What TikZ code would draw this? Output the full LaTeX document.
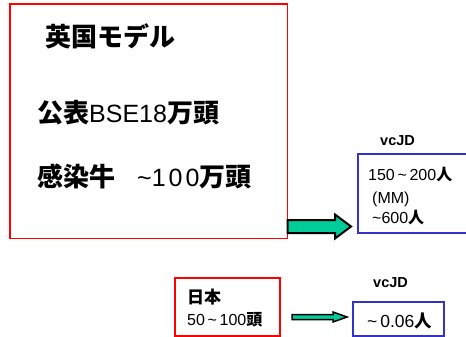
\documentclass[tikz,border=0pt]{standalone}
\usepackage{fontspec}
\setmainfont{Liberation Sans}
\newfontfamily\jp{Noto Sans CJK JP}
\definecolor{boxblue}{RGB}{51,51,204}
\definecolor{arrowgreen}{RGB}{0,204,153}
\begin{document}
\begin{tikzpicture}[x=1pt,y=-1pt]
\useasboundingbox (0,0) rectangle (466,337);
\clip (0,0) rectangle (466,337);
\tikzset{
  redbox/.style={draw=red, line width=1.5pt, inner sep=0pt, outer sep=0pt, rectangle, anchor=north west},
  bluebox/.style={draw=boxblue, line width=1.5pt, inner sep=0pt, outer sep=0pt, rectangle, anchor=north west},
  blockarrow/.style={draw=black, line width=2pt, fill=arrowgreen, line join=miter},
  txt/.style={anchor=base west, inner sep=0pt},
  big/.style={font=\fontsize{25}{30}\selectfont},
  mid/.style={font=\fontsize{16}{19}\selectfont},
  small/.style={font=\fontsize{14.5}{17}\selectfont\bfseries},
}
\newcommand{\J}[1]{{\jp\bfseries #1}}
\newcommand{\JB}[1]{{\jp\bfseries\fontsize{26}{30}\selectfont #1}}
\newcommand{\Sp}[1]{{\addfontfeature{LetterSpace=#1}}}
% boxes
\node[redbox, minimum width=277.5pt, minimum height=234.5pt] (uk) at (10,4) {};
\node[bluebox, minimum width=120pt, minimum height=79pt] (ukv) at (358,154) {};
\node[redbox, minimum width=105pt, minimum height=58pt] (jp) at (175,278) {};
\node[bluebox, minimum width=91pt, minimum height=34pt] (jpv) at (353,302) {};
% texts in big red box
\node[txt, big] (t1) at (45,47) {\JB{英国モデル}};
\node[txt, big] (t2) at (37,122) {\JB{公表}BSE18\JB{万頭}};
\node[txt, big] (t3) at (37,186) {\JB{感染牛}\hspace{22pt}\textasciitilde{\addfontfeature{LetterSpace=12}100}\JB{万頭}};
% right blue box
\node[txt, small] (v1) at (380,145) {vcJD};
\node[txt, mid] (b1) at (368,180) {150\,\textasciitilde\,200\J{人}};
\node[txt, mid] (b2) at (372,203) {(MM)};
\node[txt, mid] (b3) at (372,223) {\textasciitilde600\J{人}};
% japan box
\node[txt, mid] (j1) at (187,303) {\J{\fontsize{17}{20}\selectfont 日本}};
\node[txt, mid] (j2) at (187,325) {50\,\textasciitilde\,100\J{頭}};
\node[txt, small] (v2) at (373,287) {vcJD};
\node[txt, mid] (c1) at (367,327) {{\fontsize{17.5}{20}\selectfont\textasciitilde\,0.06\J{人}}};
% arrows
\draw[blockarrow] (uk.east |- 0,220) -- (335,220) -- (335,214.5) -- (351,226.5) -- (335,238.5) -- (335,233) -- (uk.east |- 0,233) -- cycle;
\draw[blockarrow, line width=1.5pt] (292,314.5) -- (333,314.5) -- (333,312) -- (347,317) -- (333,322) -- (333,319.5) -- (292,319.5) -- cycle;
\end{tikzpicture}
\end{document}
